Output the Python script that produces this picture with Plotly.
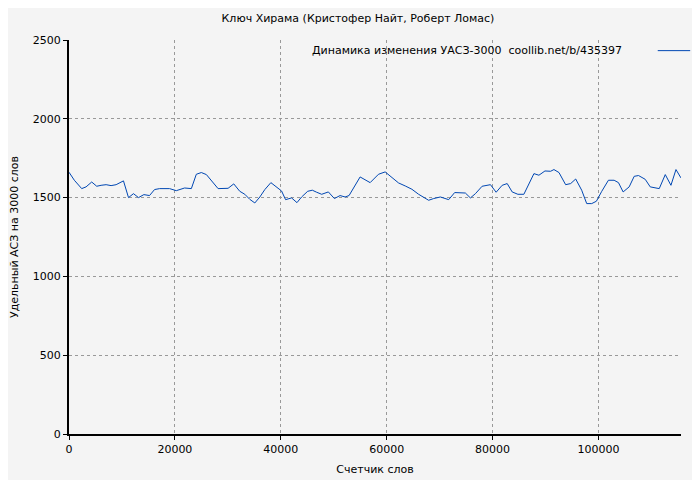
import plotly.graph_objects as go

words = [0, 1010, 2400, 3220, 4290, 5240, 6060, 7010, 7950, 8900, 10290, 11240, 12180,
         13130, 14140, 15210, 16160, 17110, 19000, 20270, 21840, 23110, 24050, 25000,
         25950, 26890, 28160, 30050, 31120, 32260, 33210, 34150, 35100, 36050, 36990,
         38130, 39200, 40150, 40910, 42050, 43060, 43940, 45080, 45960, 46780, 47730,
         48990, 50130, 51200, 52150, 52900, 53910, 54990, 56880, 58460, 59720, 60980,
         62250, 63510, 64770, 66040, 67930, 68880, 70140, 71720, 72850, 74870, 75820,
         76770, 78030, 79610, 80680, 81820, 82770, 83710, 84790, 85920, 86870, 87820,
         88760, 89900, 90970, 91600, 92550, 93810, 94760, 95710, 96840, 97790, 98740,
         99620, 100630, 101890, 102970, 103790, 104670, 105810, 106760, 107580, 108840,
         109790, 111490, 112630, 113700, 114650, 115590]
uasz = [1661, 1610, 1557, 1568, 1599, 1572, 1578, 1582, 1576, 1582, 1606, 1500, 1525,
        1500, 1519, 1513, 1551, 1557, 1557, 1544, 1561, 1557, 1648, 1659, 1646, 1610,
        1557, 1559, 1587, 1540, 1521, 1489, 1466, 1504, 1551, 1595, 1568, 1542, 1487,
        1498, 1468, 1504, 1540, 1547, 1534, 1521, 1536, 1494, 1513, 1504, 1513, 1568,
        1631, 1595, 1648, 1663, 1627, 1593, 1574, 1553, 1521, 1483, 1494, 1504, 1487,
        1532, 1529, 1498, 1525, 1572, 1582, 1534, 1578, 1589, 1536, 1521, 1521, 1589,
        1652, 1642, 1669, 1667, 1678, 1659, 1582, 1589, 1618, 1547, 1462, 1462, 1477,
        1540, 1610, 1610, 1595, 1536, 1568, 1635, 1640, 1616, 1568, 1557, 1646, 1578,
        1678, 1625]
legend_text = "Динамика изменения УАСЗ-3000  coollib.net/b/435397"
line_color = "#0047b3"

fig = go.Figure()
fig.add_trace(go.Scatter(x=words, y=uasz, mode="lines", showlegend=False,
                         line=dict(color=line_color, width=1)))

axis_style = dict(showline=True, linecolor="black", linewidth=2, ticks="outside",
                  ticklen=4, tickcolor="black", gridcolor="#999999", griddash="dot",
                  gridwidth=1, zeroline=False, automargin=False, tickformat="d",
                  tickfont=dict(size=11))

fig.update_layout(
    width=700, height=480,
    paper_bgcolor="#f4f4f4", plot_bgcolor="#f4f4f4",
    font=dict(family="DejaVu Sans", size=11, color="black"),
    title=dict(text="Ключ Хирама (Кристофер Найт, Роберт Ломас)", x=0.5, xanchor="center",
               y=0.978, yanchor="middle", font=dict(size=11)),
    margin=dict(l=61, r=27, t=32, b=54, autoexpand=False),
    xaxis=dict(title=dict(text="Счетчик слов", standoff=10, font=dict(size=11)),
               range=[0, 115600],
               tickvals=[0, 20000, 40000, 60000, 80000, 100000], **axis_style),
    yaxis=dict(title=dict(text="Удельный АСЗ на 3000 слов", standoff=16, font=dict(size=11)),
               range=[0, 2500],
               tickvals=[0, 500, 1000, 1500, 2000, 2500], **axis_style),
)
fig.add_annotation(text=legend_text, xref="paper", yref="paper", x=0.907, y=0.973,
                   xanchor="right", yanchor="middle", showarrow=False, font=dict(size=11))
fig.add_shape(type="line", xref="paper", yref="paper", x0=0.962, x1=1.015, y0=0.973, y1=0.973,
              line=dict(color=line_color, width=1))

fig.write_html("out.html")
